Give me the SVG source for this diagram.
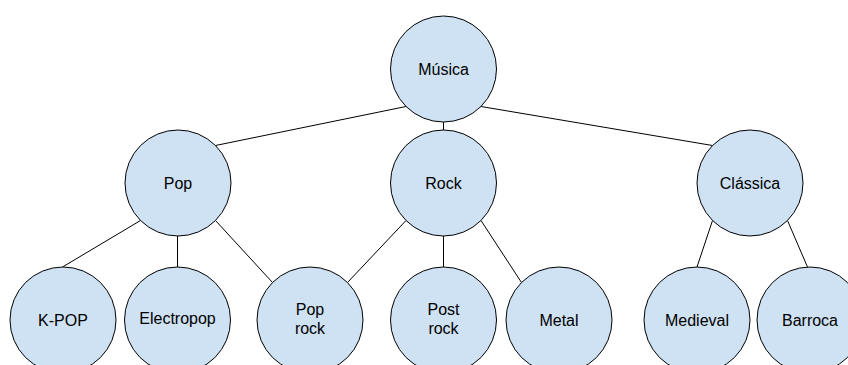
<svg xmlns="http://www.w3.org/2000/svg" width="848" height="365" viewBox="0 0 848 365">
  <style>
    .node circle { fill: #cfe2f3; stroke: #000; stroke-width: 1; }
    .node text { font-family: "Liberation Sans", Arial, sans-serif; font-size: 16px; fill: #000; text-anchor: middle; }
    #connectors line { stroke: #000; stroke-width: 1; }
  </style>
  <rect width="848" height="365" fill="#fff"/>

  <!-- tree edges, attached at the 45° / top / bottom connection points -->
  <g id="connectors">
    <line x1="406" y1="106.5" x2="215.5" y2="145.5"/>
    <line x1="443.5" y1="122" x2="443.5" y2="130"/>
    <line x1="481" y1="106.5" x2="712.5" y2="145.5"/>
    <line x1="140.5" y1="220.5" x2="62.5" y2="267"/>
    <line x1="177.5" y1="236" x2="177.5" y2="267"/>
    <line x1="215.5" y1="220.5" x2="272.5" y2="282.5"/>
    <line x1="406" y1="220.5" x2="347.5" y2="282.5"/>
    <line x1="443.5" y1="236" x2="443.5" y2="267"/>
    <line x1="481" y1="220.5" x2="521.5" y2="282.5"/>
    <line x1="712.5" y1="220.5" x2="697" y2="267"/>
    <line x1="787.5" y1="220.5" x2="807.5" y2="267"/>
  </g>

  <g id="musica" class="node">
    <circle cx="443.5" cy="69" r="53"/>
    <text x="443.5" y="74.5">Música</text>
  </g>
  <g id="pop" class="node">
    <circle cx="178" cy="183" r="53"/>
    <text x="178" y="189">Pop</text>
  </g>
  <g id="rock" class="node">
    <circle cx="443.5" cy="183" r="53"/>
    <text x="443.5" y="189">Rock</text>
  </g>
  <g id="classica" class="node">
    <circle cx="750" cy="183" r="53"/>
    <text x="750" y="189">Clássica</text>
  </g>

  <g id="kpop" class="node">
    <circle cx="63" cy="320" r="53"/>
    <text x="63" y="325.5">K-POP</text>
  </g>
  <g id="electropop" class="node">
    <circle cx="177.5" cy="320" r="53"/>
    <text x="177.5" y="323.5">Electropop</text>
  </g>
  <g id="poprock" class="node">
    <circle cx="310" cy="320" r="53"/>
    <text x="310" y="315">Pop</text>
    <text x="310" y="334">rock</text>
  </g>
  <g id="postrock" class="node">
    <circle cx="443.5" cy="320" r="53"/>
    <text x="443.5" y="315">Post</text>
    <text x="443.5" y="334">rock</text>
  </g>
  <g id="metal" class="node">
    <circle cx="559" cy="320" r="53"/>
    <text x="559" y="325.5">Metal</text>
  </g>
  <g id="medieval" class="node">
    <circle cx="697" cy="320" r="53"/>
    <text x="697" y="325.5">Medieval</text>
  </g>
  <g id="barroca" class="node">
    <circle cx="810" cy="320" r="53"/>
    <text x="810" y="325.5">Barroca</text>
  </g>
</svg>
